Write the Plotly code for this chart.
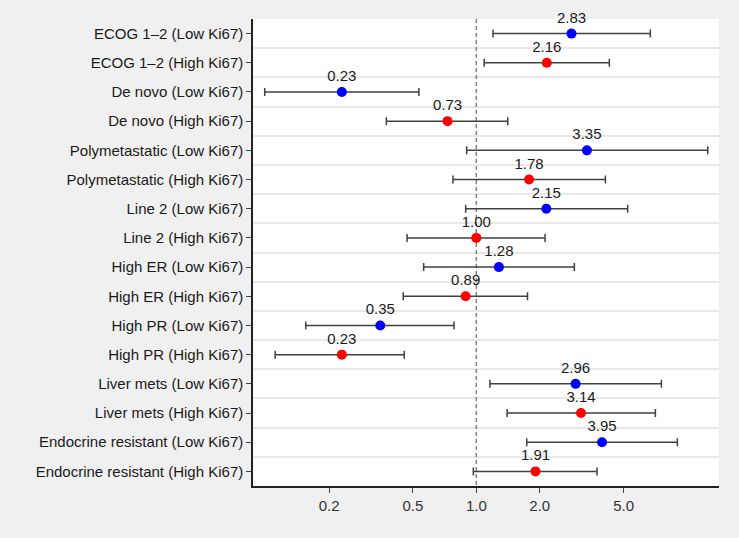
import plotly.graph_objects as go

labels = [
    "ECOG 1–2 (Low Ki67)", "ECOG 1–2 (High Ki67)",
    "De novo (Low Ki67)", "De novo (High Ki67)",
    "Polymetastatic (Low Ki67)", "Polymetastatic (High Ki67)",
    "Line 2 (Low Ki67)", "Line 2 (High Ki67)",
    "High ER (Low Ki67)", "High ER (High Ki67)",
    "High PR (Low Ki67)", "High PR (High Ki67)",
    "Liver mets (Low Ki67)", "Liver mets (High Ki67)",
    "Endocrine resistant (Low Ki67)", "Endocrine resistant (High Ki67)",
]
hr = [2.83, 2.16, 0.23, 0.73, 3.35, 1.78, 2.15, 1.00, 1.28, 0.89, 0.35, 0.23, 2.96, 3.14, 3.95, 1.91]
lower = [1.20, 1.09, 0.099, 0.374, 0.90, 0.775, 0.89, 0.469, 0.5625, 0.450, 0.155, 0.111, 1.16, 1.40, 1.735, 0.968]
upper = [6.70, 4.28, 0.534, 1.41, 12.55, 4.10, 5.23, 2.12, 2.92, 1.75, 0.784, 0.455, 7.56, 7.08, 9.0, 3.74]
group = ["Low" if "Low Ki67" in l else "High" for l in labels]
x_ticks = [0.2, 0.5, 1.0, 2.0, 5.0]
x_tick_text = ["0.2", "0.5", "1.0", "2.0", "5.0"]

colors = {"Low": "#0000ff", "High": "#ff0000"}
FONT = "Liberation Sans, Arial, sans-serif"

fig = go.Figure()

rows = list(range(len(labels)))

# reference line at HR = 1
fig.add_trace(go.Scatter(
    x=[1, 1], y=[-0.5, len(labels) - 0.5], mode="lines",
    line=dict(color="#808080", width=1.5, dash="4px,3px"),
    hoverinfo="skip", showlegend=False))

for g in ["Low", "High"]:
    idx = [i for i in rows if group[i] == g]
    fig.add_trace(go.Scatter(
        x=[hr[i] for i in idx],
        y=idx,
        mode="markers+text",
        marker=dict(color=colors[g], size=10),
        text=[f"{hr[i]:.2f}" for i in idx],
        textposition="top center",
        textfont=dict(family=FONT, size=15, color="#1a1a1a"),
        cliponaxis=False,
        error_x=dict(type="data", symmetric=False,
                     array=[upper[i] - hr[i] for i in idx],
                     arrayminus=[hr[i] - lower[i] for i in idx],
                     color="#404040", thickness=1.5, width=4),
        showlegend=False,
    ))

fig.update_layout(
    width=739, height=538,
    margin=dict(l=253, r=20, t=19, b=52),
    paper_bgcolor="#f0f0f0",
    plot_bgcolor="#ffffff",
    font=dict(family=FONT, size=15, color="#1a1a1a"),
)

fig.update_xaxes(
    type="log",
    range=[-1.060, 1.152],
    tickvals=x_ticks, ticktext=x_tick_text,
    ticks="outside", ticklen=5, tickcolor="#444444",
    tickfont=dict(size=15, color="#333333"),
    showgrid=False, zeroline=False,
    showline=True, linecolor="#222222", linewidth=1.5,
)

fig.update_yaxes(
    range=[len(labels) - 0.5, -0.5],
    tickvals=rows, ticktext=labels,
    ticks="outside", ticklen=5, tickcolor="#444444",
    tickfont=dict(size=15, color="#1a1a1a"),
    showgrid=False, zeroline=False,
    showline=True, linecolor="#222222", linewidth=1.5,
    minor=dict(tickvals=[r + 0.5 for r in rows[:-1]], showgrid=True,
               gridcolor="#e8e8e8", gridwidth=1.5, ticks=""),
)

fig.write_html("out.html")
